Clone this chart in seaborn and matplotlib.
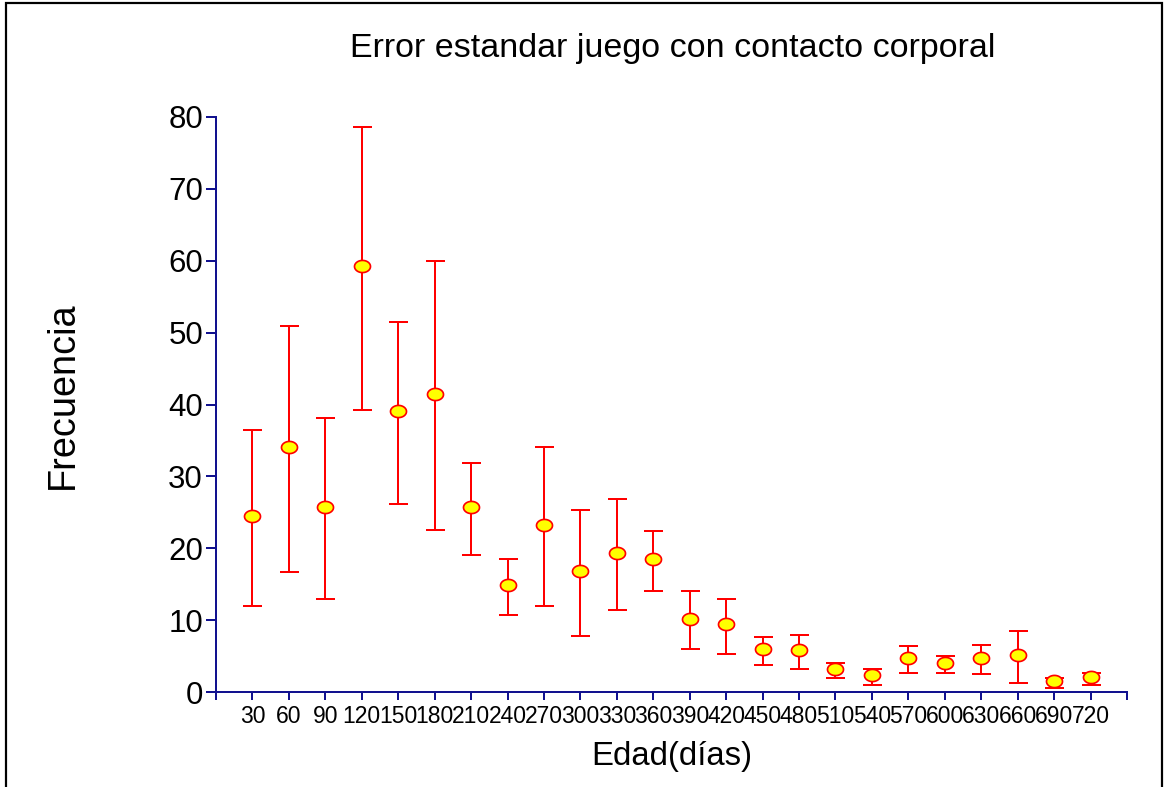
import numpy as np
import pandas as pd
import matplotlib
matplotlib.use("Agg")
import matplotlib.pyplot as plt
from matplotlib.path import Path
from matplotlib.markers import MarkerStyle
from matplotlib.patches import Rectangle
import seaborn as sns

# ---- data ----
dias = [30, 60, 90, 120, 150, 180, 210, 240, 270, 300, 330, 360,
        390, 420, 450, 480, 510, 540, 570, 600, 630, 660, 690, 720]
media = [24.5, 34.1, 25.8, 59.3, 39.1, 41.4, 25.8, 14.9, 23.3, 16.8, 19.4, 18.5,
         10.2, 9.4, 6.0, 5.8, 3.2, 2.4, 4.8, 4.1, 4.8, 5.1, 1.5, 2.1]
inferior = [11.9, 16.7, 13.0, 39.3, 26.1, 22.5, 19.0, 10.7, 11.9, 7.8, 11.4, 14.1,
            6.0, 5.3, 3.8, 3.2, 1.9, 1.0, 2.6, 2.6, 2.5, 1.2, 0.6, 1.0]
superior = [36.5, 50.9, 38.1, 78.6, 51.5, 59.9, 31.9, 18.5, 34.1, 25.3, 26.9, 22.4,
            14.0, 12.9, 7.6, 7.9, 4.1, 3.2, 6.4, 5.0, 6.5, 8.5, 2.0, 2.7]
xticks = list(range(0, 751, 30))
xticklabels = ["" if (t == 0 or t == 750) else str(t) for t in xticks]
yticks = [0, 10, 20, 30, 40, 50, 60, 70, 80]

titulo = "Error estandar juego con contacto corporal"
xlabel = "Edad(días)"
ylabel = "Frecuencia"

df = pd.DataFrame({"dias": dias, "media": media,
                   "inferior": inferior, "superior": superior})

sns.set_style("white")
plt.rcParams["font.family"] = ["Liberation Sans", "DejaVu Sans"]
plt.rcParams["text.color"] = "black"
plt.rcParams["axes.labelcolor"] = "black"
plt.rcParams["xtick.color"] = "black"
plt.rcParams["ytick.color"] = "black"

narrow = ["Liberation Sans Narrow", "Liberation Sans", "DejaVu Sans"]

W, H, DPI = 1167, 787, 100
fig = plt.figure(figsize=(W / DPI, H / DPI), dpi=DPI)
ax = fig.add_axes([216 / W, 1 - 692 / H, (1127 - 216) / W, (692 - 117) / H])

navy = "#12128f"
px = 72 / DPI  # points per pixel

# error bars
yerr = np.vstack([df["media"] - df["inferior"], df["superior"] - df["media"]])
ax.errorbar(df["dias"], df["media"], yerr=yerr, fmt="none", ecolor="#ff0000",
            elinewidth=2 * px, capsize=9.5 * px, capthick=2 * px, zorder=2,
            clip_on=False)

# ellipse marker
t = np.linspace(0, 2 * np.pi, 60)
verts = np.column_stack([np.cos(t), 0.76 * np.sin(t)])
ell = MarkerStyle(Path(verts, closed=True))
sns.scatterplot(data=df, x="dias", y="media", ax=ax, marker=ell,
                s=(16 * px) ** 2, color="#ffff00", edgecolor="#ff0000",
                linewidth=1.7 * px, zorder=3, clip_on=False, legend=False)

ax.set_xlim(0, 750)
ax.set_ylim(0, 80)
ax.set_xticks(xticks, xticklabels)
ax.set_yticks(yticks, [str(v) for v in yticks])
ax.set_xlabel("")
ax.set_ylabel("")

for s in ["top", "right"]:
    ax.spines[s].set_visible(False)
for s in ["left", "bottom"]:
    ax.spines[s].set_color(navy)
    ax.spines[s].set_linewidth(2 * px)

ax.tick_params(axis="y", direction="out", length=10 * px, width=2 * px,
               color=navy, labelsize=22.5, pad=3 * px, labelcolor="black",
               left=True)
ax.tick_params(axis="x", direction="out", length=8 * px, width=2 * px,
               color=navy, labelsize=16.5, pad=5 * px, labelcolor="black",
               bottom=True)

# texts
tt = fig.text(672.5 / W, 1 - 57 / H, titulo, ha="center", va="baseline",
              fontsize=24, family=narrow, color="black")
tx = fig.text(672 / W, 1 - 765 / H, xlabel, ha="center", va="baseline",
              fontsize=24, family=narrow, color="black")
ty = fig.text(73 / W, 1 - 395 / H, ylabel, ha="center", va="baseline",
              rotation=90, rotation_mode="anchor", fontsize=27, color="black")

fig.canvas.draw()
r = fig.canvas.get_renderer()
for txt, target, horiz in [(tt, 645, True), (tx, 161, True), (ty, 187, False)]:
    bb = txt.get_window_extent(r)
    cur = bb.width if horiz else bb.height
    txt.set_fontsize(txt.get_fontsize() * target / cur)

# outer frame
fig.patches.append(Rectangle((6 / W, -0.05), (1162 - 6) / W, 1.05 - 3 / H,
                             transform=fig.transFigure, fill=False,
                             edgecolor="black", linewidth=2.2 * px))

fig.savefig("out.png", dpi=DPI)
